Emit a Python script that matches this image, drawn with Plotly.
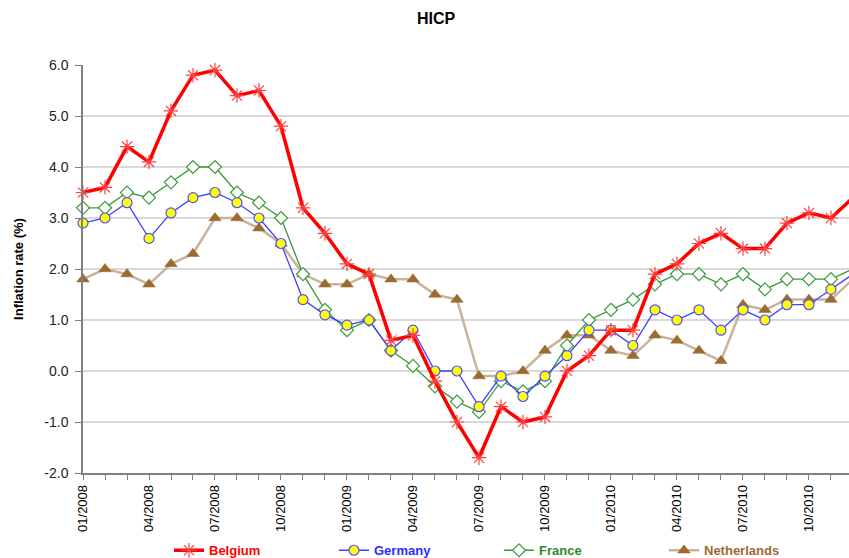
import plotly.graph_objects as go

months = [f"{m:02d}/{y}" for y in (2008, 2009, 2010) for m in range(1, 13)]
tick_labels = [lab if i % 3 == 0 else "" for i, lab in enumerate(months)]

belgium = [3.5, 3.6, 4.4, 4.1, 5.1, 5.8, 5.9, 5.4, 5.5, 4.8, 3.2, 2.7,
           2.1, 1.9, 0.6, 0.7, -0.2, -1.0, -1.7, -0.7, -1.0, -0.9, 0.0, 0.3,
           0.8, 0.8, 1.9, 2.1, 2.5, 2.7, 2.4, 2.4, 2.9, 3.1, 3.0, 3.4]
germany = [2.9, 3.0, 3.3, 2.6, 3.1, 3.4, 3.5, 3.3, 3.0, 2.5, 1.4, 1.1,
           0.9, 1.0, 0.4, 0.8, 0.0, 0.0, -0.7, -0.1, -0.5, -0.1, 0.3, 0.8,
           0.8, 0.5, 1.2, 1.0, 1.2, 0.8, 1.2, 1.0, 1.3, 1.3, 1.6, 1.9]
france = [3.2, 3.2, 3.5, 3.4, 3.7, 4.0, 4.0, 3.5, 3.3, 3.0, 1.9, 1.2,
          0.8, 1.0, 0.4, 0.1, -0.3, -0.6, -0.8, -0.2, -0.4, -0.2, 0.5, 1.0,
          1.2, 1.4, 1.7, 1.9, 1.9, 1.7, 1.9, 1.6, 1.8, 1.8, 1.8, 2.0]
netherlands = [1.8, 2.0, 1.9, 1.7, 2.1, 2.3, 3.0, 3.0, 2.8, 2.5, 1.9, 1.7,
               1.7, 1.9, 1.8, 1.8, 1.5, 1.4, -0.1, -0.1, 0.0, 0.4, 0.7, 0.7,
               0.4, 0.3, 0.7, 0.6, 0.4, 0.2, 1.3, 1.2, 1.4, 1.4, 1.4, 1.8]

y_ticks = [-2, -1, 0, 1, 2, 3, 4, 5, 6]
y_tick_text = [f"{v:.1f}" for v in y_ticks]

FONT = "Arial, Liberation Sans, sans-serif"

fig = go.Figure()

fig.add_trace(go.Scatter(
    x=months, y=netherlands, mode="lines+markers", legendrank=4,
    name="<span style='color:#9c6b30'><b>Netherlands</b></span>",
    line=dict(color="#c8b39c", width=2.5),
    marker=dict(symbol="triangle-up", size=11, color="#9c6b30",
                line=dict(color="#9c6b30", width=0.5)),
    cliponaxis=False))

fig.add_trace(go.Scatter(
    x=months, y=france, mode="lines+markers", legendrank=3,
    name="<span style='color:#2e8b2e'><b>France</b></span>",
    line=dict(color="#3a9a3a", width=1.3),
    marker=dict(symbol="diamond", size=10, color="white",
                line=dict(color="#3a9a3a", width=1.2)),
    cliponaxis=False))

fig.add_trace(go.Scatter(
    x=months, y=germany, mode="lines+markers", legendrank=2,
    name="<span style='color:#2b2bff'><b>Germany</b></span>",
    line=dict(color="#4040ff", width=1.3),
    marker=dict(symbol="circle", size=10, color="#ffff00",
                line=dict(color="#5050ff", width=1.2)),
    cliponaxis=False))

fig.add_trace(go.Scatter(
    x=months, y=belgium, mode="lines+markers", legendrank=1,
    name="<span style='color:#ff0000'><b>Belgium</b></span>",
    line=dict(color="#ff0000", width=3.5),
    marker=dict(symbol="asterisk-open", size=12, color="#ff4040",
                line=dict(color="#ff4040", width=1.2)),
    cliponaxis=False))

fig.update_layout(
    width=849, height=558,
    paper_bgcolor="white", plot_bgcolor="white",
    margin=dict(l=83, r=0, t=65, b=85, autoexpand=False),
    font=dict(family=FONT, size=12, color="black"),
    title=dict(text="<b>HICP</b>", x=436 / 849, xanchor="center", xref="container",
               y=1 - 18 / 558, yanchor="middle", yref="container",
               font=dict(family=FONT, size=16, color="black")),
    showlegend=True,
    legend=dict(orientation="h", x=(169 - 83) / 766, xanchor="left",
                y=-(550 - 472.7) / 408, yanchor="middle",
                entrywidth=120, entrywidthmode="pixels",
                font=dict(family=FONT, size=13), traceorder="normal",
                bgcolor="rgba(0,0,0,0)"),
)

fig.update_xaxes(
    type="category", range=[0, 34.82], automargin=False,
    tickmode="array", tickvals=months, ticktext=tick_labels,
    tickangle=-90, ticks="outside", ticklen=5, tickcolor="#808080",
    showline=True, linecolor="#808080", linewidth=1.5,
    showgrid=False, zeroline=False,
    tickfont=dict(family=FONT, size=13, color="black"),
)

fig.update_yaxes(
    range=[-2, 6], automargin=False,
    tickmode="array", tickvals=y_ticks, ticktext=y_tick_text,
    ticks="outside", ticklen=6, tickcolor="#808080", ticklabelstandoff=4,
    showline=True, linecolor="#808080", linewidth=1.5,
    showgrid=True, gridcolor="#d9d9d9", gridwidth=1.5, zeroline=False,
    tickfont=dict(family=FONT, size=14, color="#222222"),
    title=dict(text="<b>Inflation rate (%)</b>", standoff=18,
               font=dict(family=FONT, size=13, color="black")),
)

fig.write_html("out.html", config={"displayModeBar": False},
               post_script="document.body.style.margin='0';document.body.style.padding='0';")
